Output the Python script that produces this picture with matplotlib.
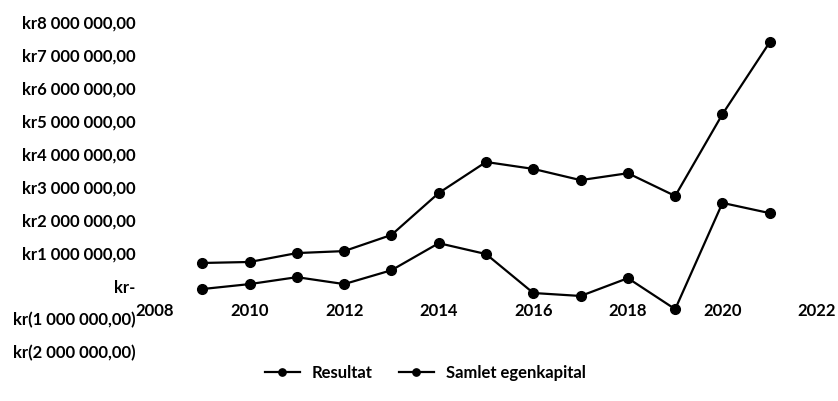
import matplotlib.pyplot as plt
from matplotlib.ticker import FuncFormatter, MultipleLocator

aar = [2009, 2010, 2011, 2012, 2013, 2014, 2015, 2016, 2017, 2018, 2019, 2020, 2021]
resultat = [-0.09, 0.06, 0.27, 0.06, 0.48, 1.30, 0.97, -0.21, -0.30, 0.24, -0.70, 2.52, 2.21]
egenkapital = [0.70, 0.73, 1.00, 1.06, 1.55, 2.82, 3.76, 3.55, 3.21, 3.42, 2.73, 5.21, 7.39]
resultat = [v * 1e6 for v in resultat]
egenkapital = [v * 1e6 for v in egenkapital]

plt.rcParams['font.family'] = ['Lato', 'DejaVu Sans']
plt.rcParams['font.weight'] = 'bold'


def kr(v, pos):
    if abs(v) < 1:
        return "kr-"
    s = f"{abs(v):,.2f}".replace(",", " ").replace(".", ",")
    if v < 0:
        return f"kr({s})"
    return f"kr{s}"


fig = plt.figure(figsize=(8.38, 4.01), dpi=100)
ax = fig.add_axes([0.185, 0.122, 0.79, 0.823])

ax.plot(aar, resultat, color="black", lw=1.6, marker="o", ms=7, label="Resultat")
ax.plot(aar, egenkapital, color="black", lw=1.6, marker="o", ms=7, label="Samlet egenkapital")

ax.set_xlim(2008, 2022)
ax.set_ylim(-2e6, 8e6)
ax.xaxis.set_major_locator(MultipleLocator(2))
ax.yaxis.set_major_locator(MultipleLocator(1e6))
ax.yaxis.set_major_formatter(FuncFormatter(kr))

for s in ["top", "right", "left"]:
    ax.spines[s].set_visible(False)
ax.spines["bottom"].set_position(("data", 0))
ax.spines["bottom"].set_visible(False)
ax.tick_params(axis="both", length=0, labelsize=12)
ax.tick_params(axis="y", pad=14)
ax.tick_params(axis="x", pad=12)

fig.legend(loc="center", bbox_to_anchor=(425 / 838, 1 - 373 / 401), ncol=2,
           frameon=False, fontsize=12, handlelength=2.1, handletextpad=0.7,
           columnspacing=1.6, markerscale=0.75)

fig.savefig("out.png", dpi=100)
